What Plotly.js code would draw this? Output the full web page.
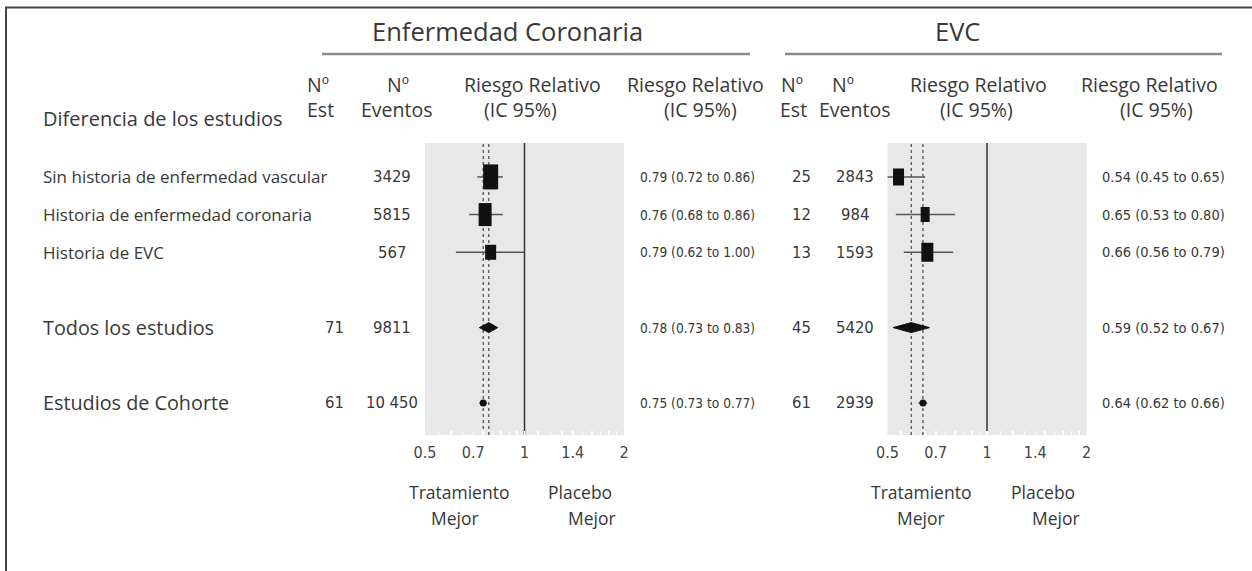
<!DOCTYPE html>
<html>
<head>
<meta charset="utf-8">
<script src="https://cdn.plot.ly/plotly-3.0.1.min.js"></script>
<style>html,body{margin:0;padding:0;background:#fff;}#chart{width:1252px;height:571px;}</style>
</head>
<body>
<div id="chart"></div>
<script>
// ---------------- DATA ----------------
const rowLabels = ["Sin historia de enfermedad vascular", "Historia de enfermedad coronaria", "Historia de EVC", "", "Todos los estudios", "", "Estudios de Cohorte"];
const rowKinds  = ["square", "square", "square", null, "diamond", null, "dot"];

// Enfermedad Coronaria
const chdStudies = ["", "", "", "", "71", "", "61"];
const chdEvents  = ["3429", "5815", "567", "", "9811", "", "10 450"];
const chdEst = [0.79, 0.76, 0.79, null, 0.78, null, 0.75];
const chdLo  = [0.72, 0.68, 0.62, null, 0.73, null, 0.73];
const chdHi  = [0.86, 0.86, 1.00, null, 0.83, null, 0.77];

// EVC
const evcStudies = ["25", "12", "13", "", "45", "", "61"];
const evcEvents  = ["2843", "984", "1593", "", "5420", "", "2939"];
const evcEst = [0.54, 0.65, 0.66, null, 0.59, null, 0.64];
const evcLo  = [0.45, 0.53, 0.56, null, 0.52, null, 0.62];
const evcHi  = [0.65, 0.80, 0.79, null, 0.67, null, 0.66];

const axisTicks = [0.5, 0.7, 1, 1.4, 2];
const axisTickText = ["0.5", "0.7", "1", "1.4", "2"];
const minorTicks = [0.55, 0.6, 0.65, 0.75, 0.8, 0.85, 0.9, 0.95, 1.1, 1.2, 1.3, 1.5, 1.6, 1.7, 1.8, 1.9];

// ---------------- STYLE ----------------
const W = 1252, H = 571;
const px = x => x / W;
const py = y => 1 - y / H;
const txtFont = "Open Sans, Lato, sans-serif";
const numFont = "Liberation Sans Narrow, DejaVu Sans Condensed, sans-serif";
const txtColor = "#383838";
const plotTop = 143, plotBottom = 435;
const yRange = [6.85, -0.9];
const pxPerUnit = (plotBottom - plotTop) / (yRange[0] - yRange[1]);
// marker box sizes (px) for square rows [width, height]
const chdBox = [[15, 25], [13, 23], [11, 15]];
const evcBox = [[11, 17], [9, 15], [12, 19]];

const fmt = v => v.toFixed(2);
const rrText = (e, l, h, i) => e[i] == null ? "" : fmt(e[i]) + " (" + fmt(l[i]) + " to " + fmt(h[i]) + ")";

function panelTraces(est, lo, hi, boxes, xa, ya) {
  const tr = [];
  for (let i = 0; i < est.length; i++) {
    if (est[i] == null) continue;
    const kind = rowKinds[i];
    if (kind !== "diamond") {
      tr.push({x: [lo[i], hi[i]], y: [i, i], mode: "lines", line: {color: "#555", width: 1.5},
               xaxis: xa, yaxis: ya, hoverinfo: "skip"});
    }
    if (kind === "square") {
      const b = boxes[i];
      const hh = b[1] / 2 / pxPerUnit;
      tr.push({x: [est[i], est[i]], y: [i - hh, i + hh], mode: "lines",
               line: {color: "#111", width: b[0]}, xaxis: xa, yaxis: ya, hoverinfo: "skip"});
    } else if (kind === "diamond") {
      const dh = 5 / pxPerUnit;
      tr.push({x: [lo[i], est[i], hi[i], est[i], lo[i]], y: [i, i - dh, i, i + dh, i], mode: "lines",
               fill: "toself", fillcolor: "#111", line: {color: "#111", width: 1},
               xaxis: xa, yaxis: ya, hoverinfo: "skip"});
    } else if (kind === "dot") {
      tr.push({x: [est[i]], y: [i], mode: "markers", marker: {symbol: "circle", size: 7, color: "#111"},
               xaxis: xa, yaxis: ya, hoverinfo: "skip"});
    }
  }
  return tr;
}

const traces = [].concat(
  panelTraces(chdEst, chdLo, chdHi, chdBox, "x", "y"),
  panelTraces(evcEst, evcLo, evcHi, evcBox, "x2", "y2")
);

function refShapes(est, xa, ya) {
  const ydom = ya + " domain";
  return [
    {type: "line", xref: xa, yref: ydom, x0: 1, x1: 1, y0: 0, y1: 1, line: {color: "#333", width: 1.5}, layer: "below"},
    {type: "line", xref: xa, yref: ydom, x0: est[4], x1: est[4], y0: 0, y1: 1, line: {color: "#444", width: 1.2, dash: "3px,3px"}, layer: "below"},
    {type: "line", xref: xa, yref: ydom, x0: est[6], x1: est[6], y0: 0, y1: 1, line: {color: "#444", width: 1.2, dash: "3px,3px"}, layer: "below"}
  ];
}

const shapes = [].concat(
  refShapes(chdEst, "x", "y"),
  refShapes(evcEst, "x2", "y2"),
  [
    {type: "line", xref: "paper", yref: "paper", x0: px(5), x1: 1, y0: py(7.5), y1: py(7.5), line: {color: "#444", width: 2}},
    {type: "line", xref: "paper", yref: "paper", x0: px(6), x1: px(6), y0: py(7), y1: 0, line: {color: "#444", width: 2}},
    {type: "line", xref: "paper", yref: "paper", x0: px(322), x1: px(750), y0: py(54), y1: py(54), line: {color: "#8a8a8a", width: 2.5}},
    {type: "line", xref: "paper", yref: "paper", x0: px(785), x1: px(1222), y0: py(54), y1: py(54), line: {color: "#8a8a8a", width: 2.5}}
  ]
);

const ann = [];
function t(text, x, y, size, opts) {
  opts = opts || {};
  ann.push({text: text, x: px(x), y: opts.yref ? y : py(y), xref: "paper", yref: opts.yref || "paper",
            xanchor: opts.anchor || "center", yanchor: "middle", showarrow: false,
            font: {family: opts.family || txtFont, size: size, color: txtColor}});
}
// titles
t("Enfermedad Coronaria", 507, 31, 25.5);
t("EVC", 957, 31, 25.5);
// column headers
t("Diferencia de los estudios", 41, 118, 20, {anchor: "left"});
const hdr = [
  ["Nº", 318, 84], ["Est", 320, 110], ["Nº", 398, 84], ["Eventos", 396, 110],
  ["Riesgo Relativo", 532, 84], ["(IC 95%)", 520, 110], ["Riesgo Relativo", 695, 84], ["(IC 95%)", 700, 110],
  ["Nº", 792, 84], ["Est", 793, 110], ["Nº", 843, 84], ["Eventos", 854, 110],
  ["Riesgo Relativo", 978, 84], ["(IC 95%)", 976, 110], ["Riesgo Relativo", 1149, 84], ["(IC 95%)", 1156, 110]
];
hdr.forEach(h => t(h[0], h[1], h[2], 19.5));
// row labels & values
rowLabels.forEach((lab, i) => {
  if (!lab) return;
  const big = rowKinds[i] !== "square";
  t(lab, 41, i, big ? 19.8 : 17, {anchor: "left", yref: "y"});
  if (chdStudies[i]) t(chdStudies[i], 334, i, 16.5, {yref: "y", family: numFont});
  if (chdEvents[i]) t(chdEvents[i], 392, i, 16.5, {yref: "y", family: numFont});
  t(rrText(chdEst, chdLo, chdHi, i), 638, i, 13.6, {anchor: "left", yref: "y", family: numFont});
  if (evcStudies[i]) t(evcStudies[i], 801, i, 16.5, {yref: "y", family: numFont});
  if (evcEvents[i]) t(evcEvents[i], 855, i, 16.5, {yref: "y", family: numFont});
  t(rrText(evcEst, evcLo, evcHi, i), 1100, i, 14.5, {anchor: "left", yref: "y", family: numFont});
});
// direction labels
t("Tratamiento", 459, 492, 17.5); t("Mejor", 455, 518, 17.5);
t("Placebo", 580, 492, 17.5); t("Mejor", 592, 518, 17.5);
t("Tratamiento", 921, 492, 17.5); t("Mejor", 921, 518, 17.5);
t("Placebo", 1043, 492, 17.5); t("Mejor", 1056, 518, 17.5);

function xAxis(domain, anchor) {
  return {
    domain: domain, anchor: anchor, type: "log",
    range: [Math.log10(0.5), Math.log10(2)],
    tickmode: "array", tickvals: axisTicks, ticktext: axisTickText,
    ticks: "inside", ticklen: 4, tickcolor: "#ffffff", tickwidth: 1.5,
    ticklabelstandoff: 6,
    minor: {tickmode: "array", tickvals: minorTicks, ticks: "inside", ticklen: 4, tickcolor: "#ffffff", tickwidth: 1.5, showgrid: false},
    showgrid: false, zeroline: false, showline: false, fixedrange: true,
    tickfont: {family: numFont, size: 16, color: "#444"}
  };
}
function yAxis(anchor) {
  return {domain: [1 - plotBottom / H, 1 - plotTop / H], anchor: anchor, range: yRange,
          showgrid: false, zeroline: false, showticklabels: false, ticks: "", showline: false, fixedrange: true};
}

const layout = {
  width: W, height: H,
  margin: {l: 0, r: 0, t: 0, b: 0},
  paper_bgcolor: "#ffffff", plot_bgcolor: "#e8e8e8",
  showlegend: false,
  xaxis: xAxis([425 / W, 624 / W], "y"),
  yaxis: yAxis("x"),
  xaxis2: xAxis([887.5 / W, 1086.5 / W], "y2"),
  yaxis2: yAxis("x2"),
  shapes: shapes,
  annotations: ann
};

Plotly.newPlot("chart", traces, layout, {displayModeBar: false, staticPlot: true});
</script>
</body>
</html>
